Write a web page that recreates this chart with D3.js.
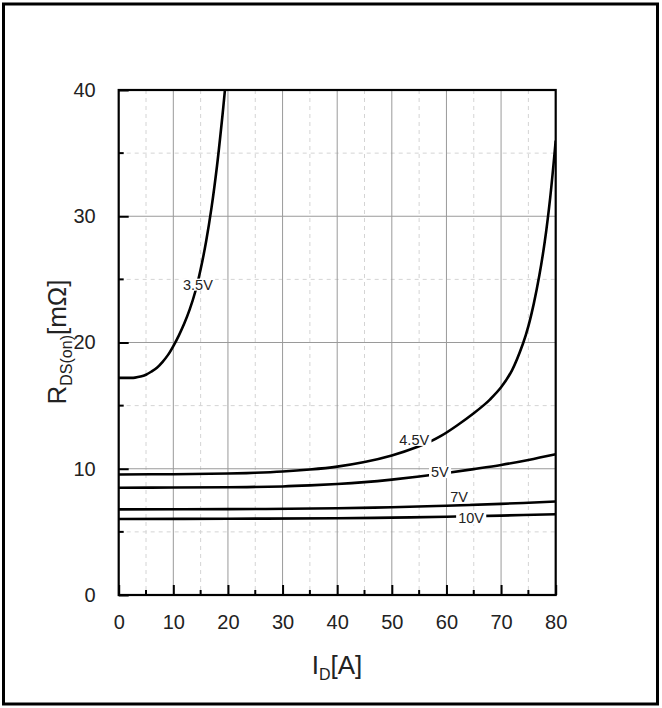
<!DOCTYPE html>
<html>
<head>
<meta charset="utf-8">
<script src="https://cdn.jsdelivr.net/npm/d3@7"></script>
<style>
  body { margin: 0; background: #fff; }
  text { font-family: "Liberation Sans", Arial, sans-serif; }
</style>
</head>
<body>
<svg id="viz" width="662" height="708"></svg>
<script>
// ---- data ----
let xTicks = [0, 10, 20, 30, 40, 50, 60, 70, 80];
let yTicks = [0, 10, 20, 30, 40];
let xMinor = [5, 15, 25, 35, 45, 55, 65, 75];
let yMinor = [5, 15, 25, 35];

let curveNames = ["3.5V", "4.5V", "5V", "7V", "10V"];

let id35 = [0, 2, 3, 4, 5, 6, 7, 8, 9, 10, 11, 12, 13, 14, 15, 16, 17, 18, 19, 19.45];
let r35 = [17.2, 17.2, 17.22, 17.3, 17.45, 17.7, 18.0, 18.45, 19.0, 19.72, 20.55, 21.5, 22.62, 24.0, 25.8, 28.0, 30.7, 34.0, 38.0, 40];

let id45 = [0, 10, 20, 25, 30, 35, 40, 45, 50, 55, 57, 59, 62, 65, 67, 68, 70, 72, 74, 75, 76, 77, 78, 79, 80];
let r45 = [9.55, 9.57, 9.62, 9.68, 9.78, 9.94, 10.17, 10.53, 11.05, 11.78, 12.15, 12.6, 13.45, 14.4, 15.1, 15.5, 16.45, 17.8, 19.9, 21.3, 23.1, 25.3, 28.0, 31.5, 36.0];

let id5 = [0, 10, 20, 30, 35, 40, 45, 50, 55, 60, 65, 70, 75, 80];
let r5 = [8.5, 8.51, 8.53, 8.6, 8.68, 8.79, 8.94, 9.14, 9.38, 9.66, 9.97, 10.3, 10.7, 11.15];

let id7 = [0, 20, 40, 50, 60, 70, 80];
let r7 = [6.78, 6.8, 6.87, 6.95, 7.07, 7.22, 7.4];

let id10 = [0, 20, 40, 50, 60, 70, 80];
let r10 = [6.02, 6.04, 6.08, 6.13, 6.2, 6.29, 6.4];

// where each curve label sits (data units)
let labelX = [14.5, 54.1, 58.8, 62.3, 64.5];
let labelY = [24.6, 12.3, 9.75, 7.75, 6.08];

// ---- layout ----
let plotLeft = 118.7, plotRight = 555.7, plotTop = 90, plotBottom = 595;

let svg = d3.select("#viz");

// outer frame around the whole picture
svg.append("rect")
  .attr("x", 3.5).attr("y", 4).attr("width", 654).attr("height", 700)
  .attr("fill", "none").attr("stroke", "#000").attr("stroke-width", 3);

let xScale = d3.scaleLinear().domain([0, 80]).range([plotLeft, plotRight]);
let yScale = d3.scaleLinear().domain([0, 40]).range([plotBottom, plotTop]);

// grid - minor dashed
let grid = svg.append("g");
grid.selectAll(".vminor").data(xMinor).enter().append("line")
  .attr("x1", d => xScale(d)).attr("x2", d => xScale(d))
  .attr("y1", plotTop).attr("y2", plotBottom)
  .attr("stroke", "#d4d4d4").attr("stroke-dasharray", "4,4");
grid.selectAll(".hminor").data(yMinor).enter().append("line")
  .attr("y1", d => yScale(d)).attr("y2", d => yScale(d))
  .attr("x1", plotLeft).attr("x2", plotRight)
  .attr("stroke", "#d4d4d4").attr("stroke-dasharray", "4,4");
// grid - major solid
grid.selectAll(".vmajor").data(xTicks.slice(1, -1)).enter().append("line")
  .attr("x1", d => xScale(d)).attr("x2", d => xScale(d))
  .attr("y1", plotTop).attr("y2", plotBottom)
  .attr("stroke", "#9a9a9a");
grid.selectAll(".hmajor").data(yTicks.slice(1, -1)).enter().append("line")
  .attr("y1", d => yScale(d)).attr("y2", d => yScale(d))
  .attr("x1", plotLeft).attr("x2", plotRight)
  .attr("stroke", "#9a9a9a");

// curves
let series = [
  d3.zip(id35, r35), d3.zip(id45, r45), d3.zip(id5, r5), d3.zip(id7, r7), d3.zip(id10, r10)
];

svg.append("clipPath").attr("id", "clip").append("rect")
  .attr("x", plotLeft).attr("y", plotTop).attr("width", plotRight - plotLeft).attr("height", plotBottom - plotTop);

let line = d3.line()
  .x(d => xScale(d[0]))
  .y(d => yScale(d[1]))
  .curve(d3.curveCatmullRom.alpha(0.5));

svg.append("g").attr("clip-path", "url(#clip)")
  .selectAll("path").data(series).enter().append("path")
  .attr("d", line)
  .attr("fill", "none").attr("stroke", "#000").attr("stroke-width", 2.6);

// curve labels with white backing
let labels = svg.append("g").selectAll("g").data(curveNames).enter().append("g")
  .attr("transform", (d, i) => `translate(${xScale(labelX[i])}, ${yScale(labelY[i])})`);
labels.append("text")
  .attr("text-anchor", "middle").attr("dy", "0.36em")
  .attr("font-size", 14.5).attr("fill", "#222")
  .text(d => d)
  .each(function () {
    let b = this.getBBox();
    d3.select(this.parentNode).insert("rect", "text")
      .attr("x", b.x - 2).attr("y", b.y + 2).attr("width", b.width + 4).attr("height", b.height - 4)
      .attr("fill", "#fff");
  });

// axes, ticks pointing inward
let xAxis = svg.append("g").attr("transform", `translate(0, ${plotBottom})`);
xAxis.call(d3.axisBottom(xScale).tickValues(xTicks).tickSize(-10).tickPadding(20).tickSizeOuter(0));
xAxis.selectAll(".minor").data(xMinor).enter().append("line")
  .attr("x1", d => xScale(d)).attr("x2", d => xScale(d)).attr("y1", 0).attr("y2", -5)
  .attr("stroke", "#000").attr("stroke-width", 2);

let yAxis = svg.append("g").attr("transform", `translate(${plotLeft}, 0)`);
yAxis.call(d3.axisLeft(yScale).tickValues(yTicks).tickSize(-10).tickPadding(23).tickSizeOuter(0));
yAxis.selectAll(".minor").data(yMinor).enter().append("line")
  .attr("y1", d => yScale(d)).attr("y2", d => yScale(d)).attr("x1", 0).attr("x2", 5)
  .attr("stroke", "#000").attr("stroke-width", 2);

svg.selectAll(".tick line").attr("stroke-width", 2);
svg.selectAll(".tick text").attr("font-size", 20).attr("fill", "#222")
  .attr("font-family", '"Liberation Sans", Arial, sans-serif');
svg.selectAll(".domain").remove();

// plot frame
svg.append("rect")
  .attr("x", plotLeft).attr("y", plotTop).attr("width", plotRight - plotLeft).attr("height", plotBottom - plotTop)
  .attr("fill", "none").attr("stroke", "#000").attr("stroke-width", 2.2);

// axis titles
let xt = svg.append("text").attr("x", 337).attr("y", 674)
  .attr("text-anchor", "middle").attr("font-size", 26).attr("fill", "#222");
xt.append("tspan").text("I");
xt.append("tspan").attr("font-size", 16).attr("dy", 6).text("D");
xt.append("tspan").attr("dy", -6).text("[A]");

let yt = svg.append("text")
  .attr("transform", "translate(66, 342) rotate(-90)")
  .attr("text-anchor", "middle").attr("font-size", 26).attr("fill", "#222");
yt.append("tspan").text("R");
yt.append("tspan").attr("font-size", 16).attr("dy", 6).text("DS(on)");
yt.append("tspan").attr("dy", -6).text("[mΩ]");
</script>
</body>
</html>
